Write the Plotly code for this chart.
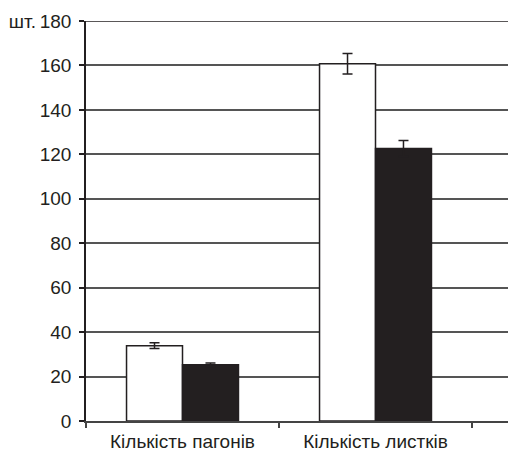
import plotly.graph_objects as go

categories = ["Кількість пагонів", "Кількість листків"]
white_values = [33.9, 160.8]
white_errors = [1.3, 4.6]
black_values = [25.3, 122.6]
black_errors = [0.8, 3.6]
y_tickvals = [0, 20, 40, 60, 80, 100, 120, 140, 160, 180]
y_ticktext = ["0", "20", "40", "60", "80", "100", "120", "140", "160", "шт.\u2009180"]

fig = go.Figure()
fig.add_trace(go.Bar(
    x=categories, y=white_values,
    marker=dict(color="white", line=dict(color="#231f20", width=1.5)),
    error_y=dict(type="data", array=white_errors, color="#231f20", thickness=1.5, width=5),
    showlegend=False, hoverinfo="skip",
))
fig.add_trace(go.Bar(
    x=categories, y=black_values,
    marker=dict(color="#231f20", line=dict(color="#231f20", width=1.5)),
    error_y=dict(type="data", array=black_errors, color="#231f20", thickness=1.5, width=5),
    showlegend=False, hoverinfo="skip",
))

fig.add_shape(type="line", xref="paper", yref="y", x0=0, x1=1, y0=180, y1=180,
              line=dict(color="#231f20", width=1.5), layer="below")

fig.update_layout(
    width=508, height=452,
    margin=dict(l=86, r=0, t=21, b=29),
    paper_bgcolor="white", plot_bgcolor="white",
    barmode="group", bargap=0.42, bargroupgap=0,
    font=dict(family="Liberation Sans, Arial, sans-serif", size=19, color="#231f20"),
    xaxis=dict(
        type="category", range=[-0.5, -0.5 + 422 / 193],
        showline=True, linecolor="#444", linewidth=1.5,
        ticks="outside", ticklen=5, tickcolor="#444", tickwidth=1.5,
        tickson="boundaries", showgrid=False, ticklabelstandoff=2,
        tickfont=dict(size=19),
    ),
    yaxis=dict(
        range=[0, 180], tickvals=y_tickvals, ticktext=y_ticktext,
        showline=True, linecolor="#231f20", linewidth=1.5,
        ticks="outside", ticklen=5, tickcolor="#231f20", tickwidth=1.5,
        showgrid=True, gridcolor="#555", gridwidth=1.5, zeroline=False,
        ticklabelstandoff=4,
    ),
)
fig.write_html("out.html", config={"displayModeBar": False},
               post_script="document.body.style.margin='0';document.body.style.overflow='hidden';")
